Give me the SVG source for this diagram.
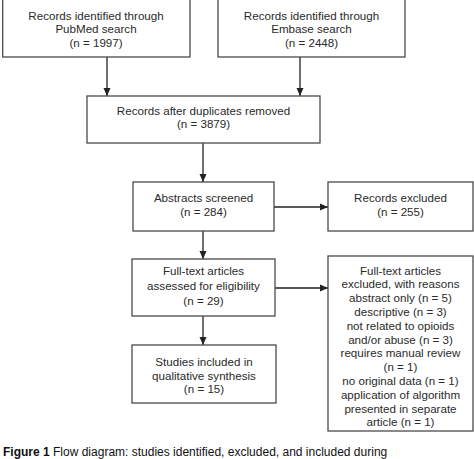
<svg xmlns="http://www.w3.org/2000/svg" width="474" height="459" viewBox="0 0 474 459">
<defs>
<style>
.box{fill:#fff;stroke:#4a4a4a;stroke-width:1.3}
.t{font-family:"Liberation Sans",Arial,sans-serif;font-size:11.6px;fill:#2a2a2a;text-anchor:middle}
.c{stroke:#222;stroke-width:1.3;fill:none;marker-end:url(#ah)}
.cap{font-family:"Liberation Sans",Arial,sans-serif;font-size:12px;fill:#111}
</style>
<marker id="ah" markerWidth="9" markerHeight="9" refX="8" refY="4.5" orient="auto" markerUnits="userSpaceOnUse">
<path d="M0,1 L8,4.5 L0,8 Z" fill="#222"/>
</marker>
</defs>
<rect width="474" height="459" fill="#fff"/>
<g id="connectors">
<line class="c" x1="107" y1="57" x2="107" y2="96"/>
<line class="c" x1="300" y1="57" x2="300" y2="96"/>
<line class="c" x1="203" y1="143" x2="203" y2="182"/>
<line class="c" x1="274" y1="207" x2="328" y2="207"/>
<line class="c" x1="203" y1="231" x2="203" y2="259"/>
<line class="c" x1="275" y1="288" x2="328" y2="288"/>
<line class="c" x1="203" y1="316" x2="203" y2="345"/>
</g>
<g id="pubmed">
<rect class="box" x="2.7" y="-5" width="187.3" height="62"/>
<text class="t" x="96" y="19.5">Records identified through</text>
<text class="t" x="96" y="33">PubMed search</text>
<text class="t" x="96" y="46.5">(n = 1997)</text>
</g>
<g id="embase">
<rect class="box" x="218" y="-5" width="187" height="62"/>
<text class="t" x="311.5" y="19.5">Records identified through</text>
<text class="t" x="311.5" y="33">Embase search</text>
<text class="t" x="311.5" y="46.5">(n = 2448)</text>
</g>
<g id="duplicates">
<rect class="box" x="87" y="96" width="233" height="47"/>
<text class="t" x="203.5" y="115">Records after duplicates removed</text>
<text class="t" x="203.5" y="128">(n = 3879)</text>
</g>
<g id="screened">
<rect class="box" x="133" y="182" width="141" height="49"/>
<text class="t" x="203.5" y="202">Abstracts screened</text>
<text class="t" x="203.5" y="216">(n = 284)</text>
</g>
<g id="excluded">
<rect class="box" x="328" y="182" width="145" height="49"/>
<text class="t" x="400.5" y="202">Records excluded</text>
<text class="t" x="400.5" y="216">(n = 255)</text>
</g>
<g id="fulltext">
<rect class="box" x="132" y="259" width="143" height="57"/>
<text class="t" x="203.5" y="275">Full-text articles</text>
<text class="t" x="203.5" y="290">assessed for eligibility</text>
<text class="t" x="203.5" y="305">(n = 29)</text>
</g>
<g id="fulltext-excluded">
<rect class="box" x="328" y="256" width="145" height="175"/>
<text class="t" x="400.5" y="274.5">Full-text articles</text>
<text class="t" x="400.5" y="288.3">excluded, with reasons</text>
<text class="t" x="400.5" y="302.1">abstract only (n = 5)</text>
<text class="t" x="400.5" y="315.9">descriptive (n = 3)</text>
<text class="t" x="400.5" y="329.7">not related to opioids</text>
<text class="t" x="400.5" y="343.5">and/or abuse (n = 3)</text>
<text class="t" x="400.5" y="357.3">requires manual review</text>
<text class="t" x="400.5" y="371.1">(n = 1)</text>
<text class="t" x="400.5" y="384.9">no original data (n = 1)</text>
<text class="t" x="400.5" y="398.7">application of algorithm</text>
<text class="t" x="400.5" y="412.5">presented in separate</text>
<text class="t" x="400.5" y="426.3">article (n = 1)</text>
</g>
<g id="included">
<rect class="box" x="132" y="345" width="144" height="58"/>
<text class="t" x="204" y="366">Studies included in</text>
<text class="t" x="204" y="379.5">qualitative synthesis</text>
<text class="t" x="204" y="393">(n = 15)</text>
</g>
<text class="cap" x="3" y="456"><tspan font-weight="bold">Figure 1</tspan>  Flow diagram: studies identified, excluded, and included during</text>
</svg>
